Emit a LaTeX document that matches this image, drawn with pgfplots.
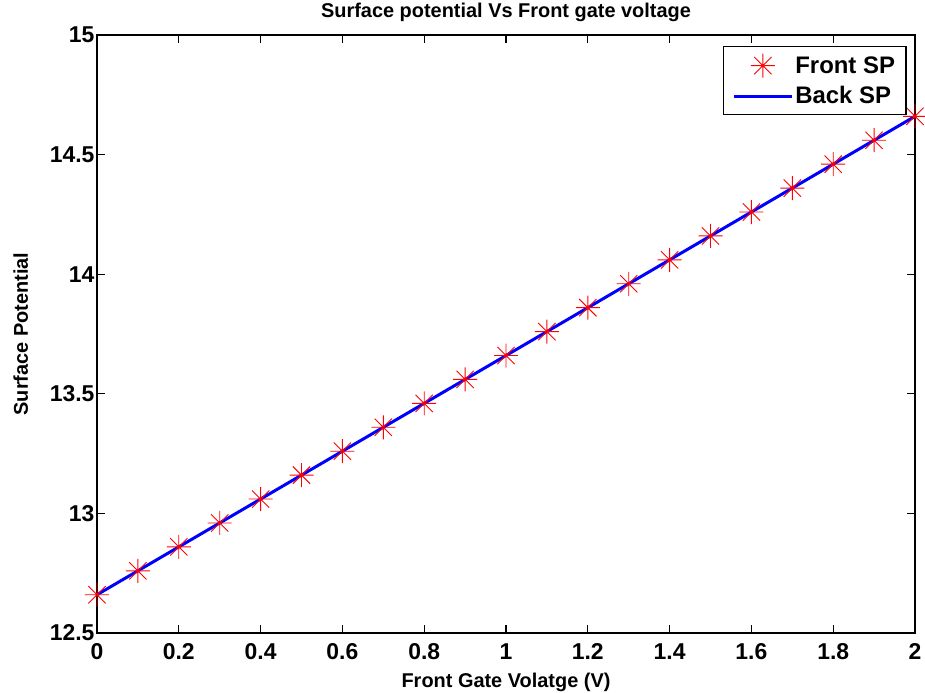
\documentclass[border=0pt]{standalone}
\usepackage{fontspec}
\setmainfont{Liberation Sans}
\usepackage{pgfplots}
\pgfplotsset{compat=1.18}
\pgfdeclareplotmark{mstar}{%
  \pgfpathmoveto{\pgfqpoint{0pt}{\pgfplotmarksize}}\pgfpathlineto{\pgfqpoint{0pt}{-\pgfplotmarksize}}%
  \pgfpathmoveto{\pgfqpoint{\pgfplotmarksize}{0pt}}\pgfpathlineto{\pgfqpoint{-\pgfplotmarksize}{0pt}}%
  \pgfpathmoveto{\pgfqpoint{0.72\pgfplotmarksize}{0.72\pgfplotmarksize}}\pgfpathlineto{\pgfqpoint{-0.72\pgfplotmarksize}{-0.72\pgfplotmarksize}}%
  \pgfpathmoveto{\pgfqpoint{0.72\pgfplotmarksize}{-0.72\pgfplotmarksize}}\pgfpathlineto{\pgfqpoint{-0.72\pgfplotmarksize}{0.72\pgfplotmarksize}}%
  \pgfusepathqstroke}
\definecolor{mred}{RGB}{255,0,0}
\definecolor{mblue}{RGB}{0,0,255}
\pgfplotsset{
  legmark/.style={legend image code/.code={\draw[##1] plot coordinates {(29bp,0bp)};}},
  legline/.style={legend image code/.code={\draw[##1] (0bp,0bp) -- (58bp,0bp);}},
}
\begin{document}
\begin{tikzpicture}
\path[use as bounding box] (-97bp,-60bp) rectangle (828bp,633bp);
\begin{axis}[
  scale only axis, width=818bp, height=598bp,
  at={(0,0)}, anchor=south west,
  xmin=0, xmax=2, ymin=12.5, ymax=15,
  xtick={0,0.2,0.4,0.6,0.8,1,1.2,1.4,1.6,1.8,2},
  ytick={12.5,13,13.5,14,14.5,15},
  tick align=inside, xtick pos=both, ytick pos=both,
  major tick length=8bp,
  axis line style={line width=1.5bp},
  every tick/.style={black, line width=1.2bp},
  /pgf/number format/assume math mode=true,
  tick label style={font=\fontsize{23}{26}\selectfont\bfseries},
  xticklabel style={yshift=-7bp},
  yticklabel style={xshift=1bp},
  title={Surface potential Vs Front gate voltage},
  title style={at={(axis description cs:0.5,1.0201)}, anchor=base, font=\fontsize{20}{23}\selectfont\bfseries},
  xlabel={Front Gate Volatge (V)},
  xlabel style={at={(axis description cs:0.5,-0.0903)}, anchor=base, font=\fontsize{20}{23}\selectfont\bfseries},
  ylabel={Surface Potential},
  ylabel style={at={(axis description cs:-0.0844,0.5)}, anchor=base, font=\fontsize{20}{23}\selectfont\bfseries},
  clip=false,
  legend style={at={(axis description cs:0.9897,0.9816)}, anchor=north east, draw=black, line width=1.2bp,
    font=\fontsize{24}{27}\selectfont\bfseries, inner xsep=9bp, inner ysep=7bp, row sep=7bp},
  legend cell align=left,
]
\addplot[only marks, mark=mstar, mark size=12bp, mred, line width=0.9bp, legmark]
  coordinates {
  (0,12.66) (0.1,12.76) (0.2,12.86) (0.3,12.96) (0.4,13.06) (0.5,13.16)
  (0.6,13.26) (0.7,13.36) (0.8,13.46) (0.9,13.56) (1.0,13.66) (1.1,13.76)
  (1.2,13.86) (1.3,13.96) (1.4,14.06) (1.5,14.16) (1.6,14.26) (1.7,14.36)
  (1.8,14.46) (1.9,14.56) (2.0,14.66)};
\addlegendentry{Front SP}
\addplot[mblue, line width=3bp, no marks, legline]
  coordinates {
  (0,12.66) (0.1,12.76) (0.2,12.86) (0.3,12.96) (0.4,13.06) (0.5,13.16)
  (0.6,13.26) (0.7,13.36) (0.8,13.46) (0.9,13.56) (1.0,13.66) (1.1,13.76)
  (1.2,13.86) (1.3,13.96) (1.4,14.06) (1.5,14.16) (1.6,14.26) (1.7,14.36)
  (1.8,14.46) (1.9,14.56) (2.0,14.66)};
\addlegendentry{Back SP}
\end{axis}
\end{tikzpicture}
\end{document}
